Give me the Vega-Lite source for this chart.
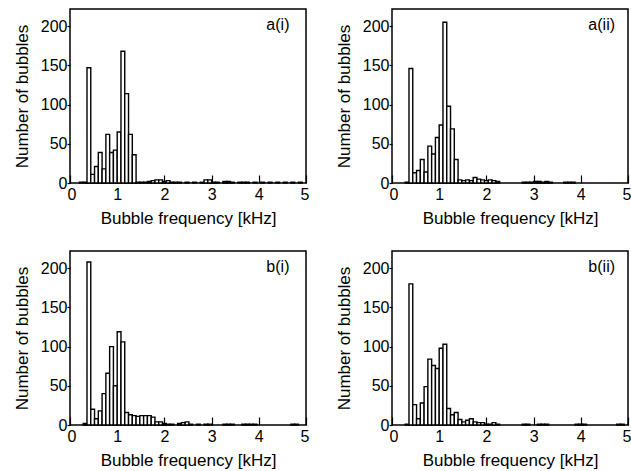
{
  "$schema": "https://vega.github.io/schema/vega-lite/v6.json",
  "padding": {"left": 12, "top": 8, "right": 0, "bottom": 2},
  "background": "white",
  "data": {"values": [
    {"panel":"a(i)","lo":0.20,"hi":0.28,"count":1},
    {"panel":"a(i)","lo":0.28,"hi":0.36,"count":1},
    {"panel":"a(i)","lo":0.36,"hi":0.44,"count":147},
    {"panel":"a(i)","lo":0.44,"hi":0.52,"count":11},
    {"panel":"a(i)","lo":0.52,"hi":0.60,"count":21},
    {"panel":"a(i)","lo":0.60,"hi":0.68,"count":39},
    {"panel":"a(i)","lo":0.68,"hi":0.76,"count":18},
    {"panel":"a(i)","lo":0.76,"hi":0.84,"count":62},
    {"panel":"a(i)","lo":0.84,"hi":0.92,"count":39},
    {"panel":"a(i)","lo":0.92,"hi":1.00,"count":42},
    {"panel":"a(i)","lo":1.00,"hi":1.08,"count":65},
    {"panel":"a(i)","lo":1.08,"hi":1.16,"count":168},
    {"panel":"a(i)","lo":1.16,"hi":1.24,"count":114},
    {"panel":"a(i)","lo":1.24,"hi":1.32,"count":62},
    {"panel":"a(i)","lo":1.32,"hi":1.40,"count":36},
    {"panel":"a(i)","lo":1.40,"hi":1.48,"count":1},
    {"panel":"a(i)","lo":1.48,"hi":1.56,"count":1},
    {"panel":"a(i)","lo":1.56,"hi":1.64,"count":1},
    {"panel":"a(i)","lo":1.64,"hi":1.72,"count":2},
    {"panel":"a(i)","lo":1.72,"hi":1.80,"count":3},
    {"panel":"a(i)","lo":1.80,"hi":1.88,"count":4},
    {"panel":"a(i)","lo":1.88,"hi":1.96,"count":4},
    {"panel":"a(i)","lo":1.96,"hi":2.04,"count":2},
    {"panel":"a(i)","lo":2.04,"hi":2.12,"count":3},
    {"panel":"a(i)","lo":2.12,"hi":2.20,"count":1},
    {"panel":"a(i)","lo":2.20,"hi":2.28,"count":1},
    {"panel":"a(i)","lo":2.28,"hi":2.36,"count":1},
    {"panel":"a(i)","lo":2.44,"hi":2.52,"count":1},
    {"panel":"a(i)","lo":2.60,"hi":2.68,"count":1},
    {"panel":"a(i)","lo":2.76,"hi":2.84,"count":1},
    {"panel":"a(i)","lo":2.84,"hi":2.92,"count":4},
    {"panel":"a(i)","lo":2.92,"hi":3.00,"count":4},
    {"panel":"a(i)","lo":3.00,"hi":3.08,"count":1},
    {"panel":"a(i)","lo":3.08,"hi":3.16,"count":1},
    {"panel":"a(i)","lo":3.24,"hi":3.32,"count":2},
    {"panel":"a(i)","lo":3.32,"hi":3.40,"count":2},
    {"panel":"a(i)","lo":3.40,"hi":3.48,"count":1},
    {"panel":"a(i)","lo":3.56,"hi":3.64,"count":1},
    {"panel":"a(i)","lo":3.64,"hi":3.72,"count":1},
    {"panel":"a(i)","lo":3.72,"hi":3.80,"count":1},
    {"panel":"a(i)","lo":3.88,"hi":3.96,"count":1},
    {"panel":"a(i)","lo":4.04,"hi":4.12,"count":1},
    {"panel":"a(i)","lo":4.20,"hi":4.28,"count":1},
    {"panel":"a(i)","lo":4.36,"hi":4.44,"count":1},
    {"panel":"a(i)","lo":4.52,"hi":4.60,"count":1},
    {"panel":"a(i)","lo":4.68,"hi":4.76,"count":1},
    {"panel":"a(i)","lo":4.84,"hi":4.92,"count":1},

    {"panel":"a(ii)","lo":0.28,"hi":0.36,"count":1},
    {"panel":"a(ii)","lo":0.36,"hi":0.44,"count":146},
    {"panel":"a(ii)","lo":0.44,"hi":0.52,"count":13},
    {"panel":"a(ii)","lo":0.52,"hi":0.60,"count":16},
    {"panel":"a(ii)","lo":0.60,"hi":0.68,"count":30},
    {"panel":"a(ii)","lo":0.68,"hi":0.76,"count":14},
    {"panel":"a(ii)","lo":0.76,"hi":0.84,"count":47},
    {"panel":"a(ii)","lo":0.84,"hi":0.92,"count":37},
    {"panel":"a(ii)","lo":0.92,"hi":1.00,"count":58},
    {"panel":"a(ii)","lo":1.00,"hi":1.08,"count":74},
    {"panel":"a(ii)","lo":1.08,"hi":1.16,"count":205},
    {"panel":"a(ii)","lo":1.16,"hi":1.24,"count":98},
    {"panel":"a(ii)","lo":1.24,"hi":1.32,"count":69},
    {"panel":"a(ii)","lo":1.32,"hi":1.40,"count":30},
    {"panel":"a(ii)","lo":1.40,"hi":1.48,"count":4},
    {"panel":"a(ii)","lo":1.48,"hi":1.56,"count":3},
    {"panel":"a(ii)","lo":1.56,"hi":1.64,"count":4},
    {"panel":"a(ii)","lo":1.64,"hi":1.72,"count":3},
    {"panel":"a(ii)","lo":1.72,"hi":1.80,"count":7},
    {"panel":"a(ii)","lo":1.80,"hi":1.88,"count":5},
    {"panel":"a(ii)","lo":1.88,"hi":1.96,"count":4},
    {"panel":"a(ii)","lo":1.96,"hi":2.04,"count":3},
    {"panel":"a(ii)","lo":2.04,"hi":2.12,"count":4},
    {"panel":"a(ii)","lo":2.12,"hi":2.20,"count":3},
    {"panel":"a(ii)","lo":2.20,"hi":2.28,"count":2},
    {"panel":"a(ii)","lo":2.76,"hi":2.84,"count":1},
    {"panel":"a(ii)","lo":2.84,"hi":2.92,"count":1},
    {"panel":"a(ii)","lo":2.92,"hi":3.00,"count":1},
    {"panel":"a(ii)","lo":3.00,"hi":3.08,"count":2},
    {"panel":"a(ii)","lo":3.08,"hi":3.16,"count":2},
    {"panel":"a(ii)","lo":3.16,"hi":3.24,"count":1},
    {"panel":"a(ii)","lo":3.24,"hi":3.32,"count":2},
    {"panel":"a(ii)","lo":3.32,"hi":3.40,"count":1},
    {"panel":"a(ii)","lo":3.64,"hi":3.72,"count":1},
    {"panel":"a(ii)","lo":3.72,"hi":3.80,"count":1},
    {"panel":"a(ii)","lo":3.80,"hi":3.88,"count":1},

    {"panel":"b(i)","lo":0.28,"hi":0.36,"count":2},
    {"panel":"b(i)","lo":0.36,"hi":0.44,"count":208},
    {"panel":"b(i)","lo":0.44,"hi":0.52,"count":20},
    {"panel":"b(i)","lo":0.52,"hi":0.60,"count":8},
    {"panel":"b(i)","lo":0.60,"hi":0.68,"count":18},
    {"panel":"b(i)","lo":0.68,"hi":0.76,"count":40},
    {"panel":"b(i)","lo":0.76,"hi":0.84,"count":66},
    {"panel":"b(i)","lo":0.84,"hi":0.92,"count":100},
    {"panel":"b(i)","lo":0.92,"hi":1.00,"count":50},
    {"panel":"b(i)","lo":1.00,"hi":1.08,"count":119},
    {"panel":"b(i)","lo":1.08,"hi":1.16,"count":106},
    {"panel":"b(i)","lo":1.16,"hi":1.24,"count":16},
    {"panel":"b(i)","lo":1.24,"hi":1.32,"count":13},
    {"panel":"b(i)","lo":1.32,"hi":1.40,"count":12},
    {"panel":"b(i)","lo":1.40,"hi":1.48,"count":11},
    {"panel":"b(i)","lo":1.48,"hi":1.56,"count":12},
    {"panel":"b(i)","lo":1.56,"hi":1.64,"count":12},
    {"panel":"b(i)","lo":1.64,"hi":1.72,"count":12},
    {"panel":"b(i)","lo":1.72,"hi":1.80,"count":10},
    {"panel":"b(i)","lo":1.80,"hi":1.88,"count":4},
    {"panel":"b(i)","lo":1.88,"hi":1.96,"count":4},
    {"panel":"b(i)","lo":1.96,"hi":2.04,"count":2},
    {"panel":"b(i)","lo":2.04,"hi":2.12,"count":1},
    {"panel":"b(i)","lo":2.12,"hi":2.20,"count":1},
    {"panel":"b(i)","lo":2.28,"hi":2.36,"count":2},
    {"panel":"b(i)","lo":2.36,"hi":2.44,"count":3},
    {"panel":"b(i)","lo":2.44,"hi":2.52,"count":4},
    {"panel":"b(i)","lo":2.52,"hi":2.60,"count":1},
    {"panel":"b(i)","lo":2.68,"hi":2.76,"count":1},
    {"panel":"b(i)","lo":2.84,"hi":2.92,"count":1},
    {"panel":"b(i)","lo":2.92,"hi":3.00,"count":1},
    {"panel":"b(i)","lo":3.24,"hi":3.32,"count":1},
    {"panel":"b(i)","lo":3.32,"hi":3.40,"count":1},
    {"panel":"b(i)","lo":3.40,"hi":3.48,"count":1},
    {"panel":"b(i)","lo":3.64,"hi":3.72,"count":1},
    {"panel":"b(i)","lo":3.72,"hi":3.80,"count":1},
    {"panel":"b(i)","lo":3.80,"hi":3.88,"count":1},
    {"panel":"b(i)","lo":3.88,"hi":3.96,"count":1},
    {"panel":"b(i)","lo":4.68,"hi":4.76,"count":1},
    {"panel":"b(i)","lo":4.76,"hi":4.84,"count":1},

    {"panel":"b(ii)","lo":0.28,"hi":0.36,"count":1},
    {"panel":"b(ii)","lo":0.36,"hi":0.44,"count":180},
    {"panel":"b(ii)","lo":0.44,"hi":0.52,"count":26},
    {"panel":"b(ii)","lo":0.52,"hi":0.60,"count":8},
    {"panel":"b(ii)","lo":0.60,"hi":0.68,"count":28},
    {"panel":"b(ii)","lo":0.68,"hi":0.76,"count":49},
    {"panel":"b(ii)","lo":0.76,"hi":0.84,"count":84},
    {"panel":"b(ii)","lo":0.84,"hi":0.92,"count":76},
    {"panel":"b(ii)","lo":0.92,"hi":1.00,"count":72},
    {"panel":"b(ii)","lo":1.00,"hi":1.08,"count":98},
    {"panel":"b(ii)","lo":1.08,"hi":1.16,"count":103},
    {"panel":"b(ii)","lo":1.16,"hi":1.24,"count":21},
    {"panel":"b(ii)","lo":1.24,"hi":1.32,"count":13},
    {"panel":"b(ii)","lo":1.32,"hi":1.40,"count":16},
    {"panel":"b(ii)","lo":1.40,"hi":1.48,"count":7},
    {"panel":"b(ii)","lo":1.48,"hi":1.56,"count":4},
    {"panel":"b(ii)","lo":1.56,"hi":1.64,"count":6},
    {"panel":"b(ii)","lo":1.64,"hi":1.72,"count":8},
    {"panel":"b(ii)","lo":1.72,"hi":1.80,"count":4},
    {"panel":"b(ii)","lo":1.80,"hi":1.88,"count":3},
    {"panel":"b(ii)","lo":1.88,"hi":1.96,"count":3},
    {"panel":"b(ii)","lo":1.96,"hi":2.04,"count":1},
    {"panel":"b(ii)","lo":2.04,"hi":2.12,"count":1},
    {"panel":"b(ii)","lo":2.12,"hi":2.20,"count":3},
    {"panel":"b(ii)","lo":2.20,"hi":2.28,"count":1},
    {"panel":"b(ii)","lo":2.76,"hi":2.84,"count":1},
    {"panel":"b(ii)","lo":2.84,"hi":2.92,"count":1},
    {"panel":"b(ii)","lo":3.08,"hi":3.16,"count":1},
    {"panel":"b(ii)","lo":3.16,"hi":3.24,"count":1},
    {"panel":"b(ii)","lo":3.24,"hi":3.32,"count":1},
    {"panel":"b(ii)","lo":3.88,"hi":3.96,"count":1},
    {"panel":"b(ii)","lo":3.96,"hi":4.04,"count":1},
    {"panel":"b(ii)","lo":4.04,"hi":4.12,"count":1},
    {"panel":"b(ii)","lo":4.76,"hi":4.84,"count":1},
    {"panel":"b(ii)","lo":4.84,"hi":4.92,"count":1}
  ]},
  "spacing": 23,
  "vconcat": [
    {
      "spacing": 24,
      "hconcat": [
        {
          "width": 236, "height": 174,
          "transform": [{"filter": {"field": "panel", "equal": "a(i)"}}],
          "layer": [
            {
              "mark": {"type": "bar", "fill": "white", "stroke": "black", "strokeWidth": 1.4},
              "encoding": {
                "x": {"field": "lo", "type": "quantitative", "scale": {"domain": [0, 5], "nice": false},
                      "axis": {"title": "Bubble frequency [kHz]", "values": [0, 1, 2, 3, 4, 5], "format": "d"}},
                "x2": {"field": "hi"},
                "y": {"field": "count", "type": "quantitative", "scale": {"domain": [0, 222], "nice": false},
                      "axis": {"title": "Number of bubbles", "values": [0, 50, 100, 150, 200]}},
                "y2": {"datum": 0}
              }
            },
            {
              "transform": [{"aggregate": [{"op": "count", "as": "bins"}], "groupby": ["panel"]}],
              "mark": {"type": "text", "align": "left", "baseline": "alphabetic", "fontSize": 16, "color": "black"},
              "encoding": {"x": {"datum": 4.16}, "y": {"datum": 195}, "text": {"field": "panel"}}
            }
          ]
        },
        {
          "width": 236, "height": 174,
          "transform": [{"filter": {"field": "panel", "equal": "a(ii)"}}],
          "layer": [
            {
              "mark": {"type": "bar", "fill": "white", "stroke": "black", "strokeWidth": 1.4},
              "encoding": {
                "x": {"field": "lo", "type": "quantitative", "scale": {"domain": [0, 5], "nice": false},
                      "axis": {"title": "Bubble frequency [kHz]", "values": [0, 1, 2, 3, 4, 5], "format": "d"}},
                "x2": {"field": "hi"},
                "y": {"field": "count", "type": "quantitative", "scale": {"domain": [0, 222], "nice": false},
                      "axis": {"title": "Number of bubbles", "values": [0, 50, 100, 150, 200]}},
                "y2": {"datum": 0}
              }
            },
            {
              "transform": [{"aggregate": [{"op": "count", "as": "bins"}], "groupby": ["panel"]}],
              "mark": {"type": "text", "align": "left", "baseline": "alphabetic", "fontSize": 16, "color": "black"},
              "encoding": {"x": {"datum": 4.16}, "y": {"datum": 195}, "text": {"field": "panel"}}
            }
          ]
        }
      ]
    },
    {
      "spacing": 24,
      "hconcat": [
        {
          "width": 236, "height": 174,
          "transform": [{"filter": {"field": "panel", "equal": "b(i)"}}],
          "layer": [
            {
              "mark": {"type": "bar", "fill": "white", "stroke": "black", "strokeWidth": 1.4},
              "encoding": {
                "x": {"field": "lo", "type": "quantitative", "scale": {"domain": [0, 5], "nice": false},
                      "axis": {"title": "Bubble frequency [kHz]", "values": [0, 1, 2, 3, 4, 5], "format": "d"}},
                "x2": {"field": "hi"},
                "y": {"field": "count", "type": "quantitative", "scale": {"domain": [0, 222], "nice": false},
                      "axis": {"title": "Number of bubbles", "values": [0, 50, 100, 150, 200]}},
                "y2": {"datum": 0}
              }
            },
            {
              "transform": [{"aggregate": [{"op": "count", "as": "bins"}], "groupby": ["panel"]}],
              "mark": {"type": "text", "align": "left", "baseline": "alphabetic", "fontSize": 16, "color": "black"},
              "encoding": {"x": {"datum": 4.16}, "y": {"datum": 195}, "text": {"field": "panel"}}
            }
          ]
        },
        {
          "width": 236, "height": 174,
          "transform": [{"filter": {"field": "panel", "equal": "b(ii)"}}],
          "layer": [
            {
              "mark": {"type": "bar", "fill": "white", "stroke": "black", "strokeWidth": 1.4},
              "encoding": {
                "x": {"field": "lo", "type": "quantitative", "scale": {"domain": [0, 5], "nice": false},
                      "axis": {"title": "Bubble frequency [kHz]", "values": [0, 1, 2, 3, 4, 5], "format": "d"}},
                "x2": {"field": "hi"},
                "y": {"field": "count", "type": "quantitative", "scale": {"domain": [0, 222], "nice": false},
                      "axis": {"title": "Number of bubbles", "values": [0, 50, 100, 150, 200]}},
                "y2": {"datum": 0}
              }
            },
            {
              "transform": [{"aggregate": [{"op": "count", "as": "bins"}], "groupby": ["panel"]}],
              "mark": {"type": "text", "align": "left", "baseline": "alphabetic", "fontSize": 16, "color": "black"},
              "encoding": {"x": {"datum": 4.16}, "y": {"datum": 195}, "text": {"field": "panel"}}
            }
          ]
        }
      ]
    }
  ],
  "config": {
    "font": "Liberation Sans",
    "view": {"stroke": "black", "strokeWidth": 1.5},
    "axisX": {"domain": false, "grid": false, "tickSize": -8, "tickColor": "black", "tickWidth": 1.2,
              "labelFontSize": 16, "labelColor": "black", "labelPadding": 11, "labelFlush": true, "labelFlushOffset": 3,
              "titleFontSize": 17, "titleFontWeight": "normal", "titleColor": "black", "titlePadding": 8},
    "axisY": {"domain": false, "grid": false, "tickSize": 3, "tickColor": "black", "tickWidth": 1.2,
              "labelFontSize": 16, "labelColor": "black", "labelPadding": 0,
              "titleFontSize": 17, "titleFontWeight": "normal", "titleColor": "black", "titlePadding": 9}
  }
}
